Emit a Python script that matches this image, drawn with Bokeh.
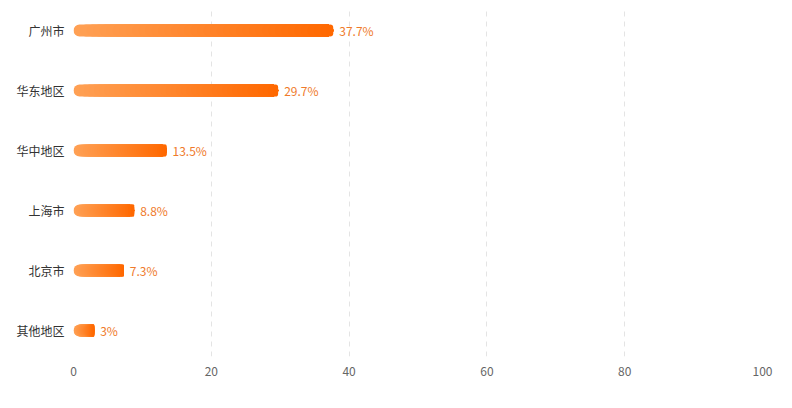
from bokeh.plotting import figure
from bokeh.models import ColumnDataSource, Range1d, FixedTicker
from bokeh.core.properties import value as pv
from bokeh.embed import file_html
from bokeh.resources import INLINE

categories = ["广州市", "华东地区", "华中地区", "上海市", "北京市", "其他地区"]
values = [37.7, 29.7, 13.5, 8.8, 7.3, 3]
value_labels = ["37.7%", "29.7%", "13.5%", "8.8%", "7.3%", "3%"]
x_ticks = [0, 20, 40, 60, 80, 100]

FONT = "Noto Sans CJK SC"
START = (255, 160, 84)
END = (255, 104, 0)
N = 40

n = len(categories)
ypos = [n - 1 - i for i in range(n)]

p = figure(width=784, height=400, output_backend="svg", toolbar_location=None,
           x_range=Range1d(0, 100), y_range=Range1d(-0.433, n - 1 + 0.367),
           min_border_left=73, min_border_right=22, min_border_top=8, min_border_bottom=44)
p.outline_line_color = None
p.background_fill_color = "white"
p.border_fill_color = "white"

def mix(t):
    r = round(START[0] + (END[0] - START[0]) * t)
    g = round(START[1] + (END[1] - START[1]) * t)
    b = round(START[2] + (END[2] - START[2]) * t)
    return "#%02x%02x%02x" % (r, g, b)

bar_h = 12 / 60.0
for k in range(N):
    left = [v * k / N for v in values]
    src = ColumnDataSource(dict(y=ypos, left=left, right=values))
    p.hbar(y="y", left="left", right="right", height=bar_h, source=src,
           fill_color=mix(k / (N - 1)), line_color=None, border_radius=6)

lab_src = ColumnDataSource(dict(x=values, y=ypos, t=value_labels))
p.text(x="x", y="y", text="t", source=lab_src, x_offset=6, text_baseline="middle",
       text_align="left", text_font=pv(FONT), text_font_size="12px", text_color="#ef7a2b")

p.ygrid.grid_line_color = None
p.xgrid.grid_line_color = "#e4e4e4"
p.xgrid.grid_line_dash = "5 5"
p.xgrid.ticker = FixedTicker(ticks=x_ticks)

p.xaxis.ticker = FixedTicker(ticks=x_ticks)
p.xaxis.axis_line_color = None
p.xaxis.major_tick_line_color = None
p.xaxis.minor_tick_line_color = None
p.xaxis.major_tick_out = 0
p.xaxis.major_tick_in = 0
p.xaxis.major_label_standoff = 10
p.xaxis.major_label_text_font = FONT
p.xaxis.major_label_text_font_size = "12px"
p.xaxis.major_label_text_color = "#666666"

p.yaxis.ticker = FixedTicker(ticks=ypos)
p.yaxis.major_label_overrides = {y: c for y, c in zip(ypos, categories)}
p.yaxis.axis_line_color = None
p.yaxis.major_tick_line_color = None
p.yaxis.minor_tick_line_color = None
p.yaxis.major_tick_out = 0
p.yaxis.major_tick_in = 0
p.yaxis.major_label_standoff = 9
p.yaxis.major_label_text_font = FONT
p.yaxis.major_label_text_font_size = "12px"
p.yaxis.major_label_text_color = "#333333"

open("out.html", "w").write(file_html(p, INLINE))
